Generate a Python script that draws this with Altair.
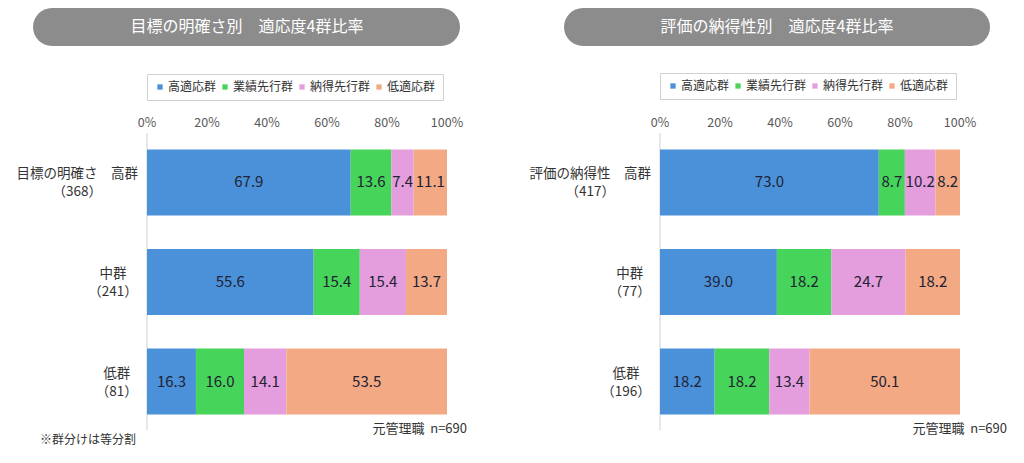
import altair as alt
import pandas as pd

FONT = "Noto Sans CJK JP"

groups = ["高適応群", "業績先行群", "納得先行群", "低適応群"]
colors = ["#4a91d9", "#46d45a", "#e49ddd", "#f2a984"]

left_title = "目標の明確さ別　適応度4群比率"
left_rows = ["目標の明確さ　高群", "中群", "低群"]
left_n = ["（368）", "（241）", "（81）"]
left_values = [
    [67.9, 13.6, 7.4, 11.1],
    [55.6, 15.4, 15.4, 13.7],
    [16.3, 16.0, 14.1, 53.5],
]

right_title = "評価の納得性別　適応度4群比率"
right_rows = ["評価の納得性　高群", "中群", "低群"]
right_n = ["（417）", "（77）", "（196）"]
right_values = [
    [73.0, 8.7, 10.2, 8.2],
    [39.0, 18.2, 24.7, 18.2],
    [18.2, 18.2, 13.4, 50.1],
]

tick_values = [0, 20, 40, 60, 80, 100]
footnote = "元管理職\u00a0\u00a0n=690"
note = "※群分けは等分割"

# layout helpers (panel offsets in x-scale units)
OFFSETS = {"left": 0, "right": 171}
PX = 3  # pixels per x unit
LABEL_FS = 13.5


def text_width(s, fs=LABEL_FS):
    w = 0.0
    for ch in s:
        w += fs * (0.57 if ord(ch) < 0x2000 else 1.0)
    return w


def segments(panel, values):
    rows = []
    off = OFFSETS[panel]
    for r, vals in enumerate(values):
        total = sum(vals)
        cum = 0.0
        for g, v in zip(groups, vals):
            s = cum / total * 100
            cum += v
            e = cum / total * 100
            rows.append(dict(panel=panel, row=r, group=g, value=v,
                             start=s + off, end=e + off, mid=(s + e) / 2 + off,
                             label=f"{v:.1f}"))
    return pd.DataFrame(rows)


seg_left = segments("left", left_values)
seg_right = segments("right", right_values)
seg_all = pd.concat([seg_left, seg_right], ignore_index=True)


def row_label_frame(panel, names, ns):
    out = []
    off = OFFSETS[panel]
    for i, (a, b) in enumerate(zip(names, ns)):
        w = max(text_width(a), text_width(b))
        center = off + (-9 - w / 2) / PX
        out.append(dict(row=i, pos=center, line1=a, line2=b))
    return out


row_labels = pd.DataFrame(
    row_label_frame("left", left_rows, left_n) + row_label_frame("right", right_rows, right_n)
)

ticks = pd.DataFrame(
    [dict(pos=v + o, text=f"{v}%") for o in OFFSETS.values() for v in tick_values]
)
zero_lines = pd.DataFrame([dict(pos=o) for o in OFFSETS.values()])

xscale = alt.Scale(domain=[0, 271], nice=False, zero=False)
yenc = alt.Y("row:O", scale=alt.Scale(domain=[0, 1, 2], paddingInner=0.337, paddingOuter=0.176), axis=None)


def legend(x, y):
    return alt.Legend(
        orient="none", legendX=x, legendY=y, direction="horizontal", columns=4,
        title=None, symbolType="square", symbolSize=28, symbolStrokeWidth=0,
        labelFontSize=12, labelFont=FONT, labelColor="#333333",
        strokeColor="#d0d0d0", padding=7, columnPadding=2, labelOffset=2,
    )


def bars(df, lx, ly):
    return alt.Chart(df).mark_bar(strokeWidth=0).encode(
        x=alt.X("start:Q", scale=xscale, axis=None),
        x2="end:Q",
        y=yenc,
        color=alt.Color("group:N", scale=alt.Scale(domain=groups, range=colors), legend=legend(lx, ly)),
    )


bars_left = bars(seg_left, 0, -58)
bars_right = bars(seg_right, 513, -59)

values_text = alt.Chart(seg_all).mark_text(font=FONT, fontSize=15, color="#222233").encode(
    x=alt.X("mid:Q", scale=xscale, axis=None), y=yenc, text="label:N"
)

rows_line1 = alt.Chart(row_labels).mark_text(
    font=FONT, fontSize=LABEL_FS, color="#333333", align="center", baseline="middle", dy=-8
).encode(x=alt.X("pos:Q", scale=xscale, axis=None), y=yenc, text="line1:N")
rows_line2 = alt.Chart(row_labels).mark_text(
    font=FONT, fontSize=LABEL_FS, color="#333333", align="center", baseline="middle", dy=10
).encode(x=alt.X("pos:Q", scale=xscale, axis=None), y=yenc, text="line2:N")

tick_text = alt.Chart(ticks).mark_text(font=FONT, fontSize=12.5, color="#595959", baseline="middle").encode(
    x=alt.X("pos:Q", scale=xscale, axis=None), y=alt.value(-9), text="text:N"
)

zero_rule = alt.Chart(zero_lines).mark_rule(color="#d9d9d9", strokeWidth=1.2).encode(
    x=alt.X("pos:Q", scale=xscale, axis=None), y=alt.value(1), y2=alt.value(298)
)

titles = pd.DataFrame([
    dict(t=left_title, x0=-114, x1=313, xc=100),
    dict(t=right_title, x0=417, x1=843, xc=630),
])
title_box = alt.Chart(titles).mark_rect(color="#8c8c8c", cornerRadius=19).encode(
    x=alt.X("x0:Q", scale=None), x2="x1:Q", y=alt.value(-124), y2=alt.value(-86)
)
title_text = alt.Chart(titles).mark_text(font=FONT, fontSize=16, color="white", baseline="middle").encode(
    x=alt.X("xc:Q", scale=None), y=alt.value(-105), text="t:N"
)

notes = pd.DataFrame([
    dict(t=footnote, x=320, y=297),
    dict(t=footnote, x=860, y=297),
])
notes_text = alt.Chart(notes).mark_text(font=FONT, fontSize=13, color="#333333", align="right", baseline="middle").encode(
    x=alt.X("x:Q", scale=None), y=alt.Y("y:Q", scale=None), text="t:N"
)
note_text = alt.Chart(pd.DataFrame([dict(t=note)])).mark_text(
    font=FONT, fontSize=12, color="#333333", align="left", baseline="middle"
).encode(x=alt.value(-107), y=alt.value(308), text="t:N")

chart = alt.layer(
    zero_rule, bars_left, bars_right, values_text, rows_line1, rows_line2, tick_text,
    title_box, title_text, notes_text, note_text,
).resolve_scale(color="independent").properties(
    width=813, height=300,
    autosize=alt.AutoSizeParams(type="none"),
    padding={"left": 139, "top": 124, "right": 56, "bottom": 23},
).configure_view(stroke=None)

chart.save("out.html", embed_options={"renderer": "svg", "actions": False})
